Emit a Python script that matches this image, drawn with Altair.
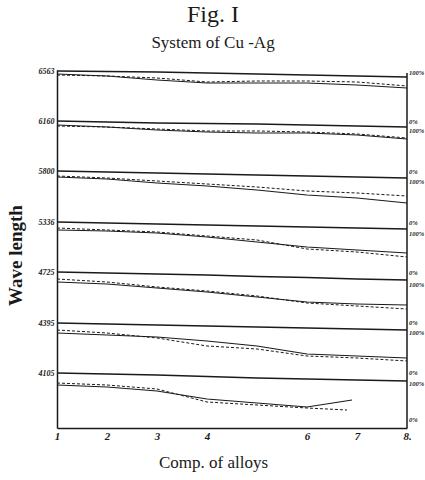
import altair as alt
import pandas as pd

# Composition of alloys (horizontal position)
comp = [1, 2, 3, 4, 5, 6, 7, 8]
x_tick_labels = ["1", "2", "3", "4", "", "6", "7", "8."]

# Wave lengths of the seven examined lines, top to bottom
wave_lengths = ["6563", "6160", "5800", "5336", "4725", "4395", "4105"]

# Vertical scale: depth below the top of the diagram (arbitrary units)
ref_lines = [
    [1, 1.5, 2, 3, 4, 5, 6, 7],
    [51, 52, 53, 53.5, 54, 55, 56, 57],
    [101, 102, 103, 104, 105, 106, 107, 108],
    [152, 153, 154, 155, 156, 157, 158, 159],
    [202, 203, 204, 205, 206.5, 207.5, 209, 210],
    [253, 254, 255, 256, 257, 258, 259, 260],
    [303, 304, 305, 306.5, 308, 309, 310, 311],
]

solid_x = [comp] * 6 + [[1, 2, 3, 4, 5, 6, 6.9]]
solid_curves = [
    [4, 6, 10, 13, 13, 13, 15, 18],
    [55, 57, 60, 62, 63, 63, 65, 69],
    [107, 109, 113, 116, 120, 125, 128, 133],
    [160, 161, 163, 167, 172, 177, 180, 183],
    [212, 214, 218, 222, 227, 232, 234, 235],
    [263, 265, 267, 271, 276, 284, 286, 288],
    [315, 317, 321, 329, 333, 337, 330],
]

dashed_x = [comp] * 6 + [[1, 2, 3, 4, 5, 6, 6.8]]
dashed_curves = [
    [5, 6, 8, 12, 11, 11, 12, 16],
    [56, 57, 59, 61, 61, 62, 64, 68],
    [106, 108, 111, 114, 117, 121, 123, 126],
    [158, 160, 162, 166, 170, 179, 182, 187],
    [209, 212, 217, 221, 226, 233, 236, 239],
    [260, 263, 268, 276, 279, 286, 288, 291],
    [313, 315, 319, 332, 335, 338, 340],
]

# Percentage marks along the right edge
right_labels = ["100%", "0%", "100%", "0%", "100%", "0%", "100%", "0%", "100%",
                "0%", "100%", "0%", "100%", "0%"]
right_label_pos = [3, 52, 61, 102, 112, 153, 164, 203, 215, 253, 263, 303, 314, 350]

ref_df = pd.DataFrame(
    [{"x": x, "y": y, "panel": i} for i, ys in enumerate(ref_lines) for x, y in zip(comp, ys)]
)
solid_df = pd.DataFrame(
    [{"x": x, "y": y, "panel": i}
     for i, (xs, ys) in enumerate(zip(solid_x, solid_curves)) for x, y in zip(xs, ys)]
)
dashed_df = pd.DataFrame(
    [{"x": x, "y": y, "panel": i}
     for i, (xs, ys) in enumerate(zip(dashed_x, dashed_curves)) for x, y in zip(xs, ys)]
)
right_df = pd.DataFrame({"x": [8] * len(right_labels), "y": right_label_pos, "t": right_labels})
frame_df = pd.DataFrame({"x": [8], "y": [3], "y2": [358]})

ink = "#1a1a1a"
serif = "Liberation Serif"

y_label_expr = " : ".join(
    f"datum.value == {ys[0]} ? '{w}'" for w, ys in zip(wave_lengths, ref_lines)
) + " : ''"
x_label_expr = " : ".join(
    f"datum.value == {v} ? '{t}'" for v, t in zip(comp, x_tick_labels)
) + " : ''"

x_enc = alt.X(
    "x:Q",
    scale=alt.Scale(domain=[1, 8], nice=False, zero=False),
    axis=alt.Axis(
        values=comp, labelExpr=x_label_expr, title="Comp. of alloys",
        grid=False, ticks=False, domainColor=ink, domainWidth=1.5,
        labelFont=serif, labelFontStyle="italic", labelFontWeight="bold",
        labelFontSize=11, labelColor=ink, labelPadding=2, labelFlush=False,
        titleFont=serif, titleFontSize=17, titleFontWeight="normal", titleColor=ink,
        titleX=156, titleY=26, titleBaseline="top",
    ),
)
y_enc = alt.Y(
    "y:Q",
    scale=alt.Scale(domain=[0, 358], reverse=True, nice=False, zero=False),
    axis=alt.Axis(
        values=[ys[0] for ys in ref_lines], labelExpr=y_label_expr, title="Wave length",
        grid=False, ticks=False, domainColor=ink, domainWidth=1.5,
        labelFont=serif, labelFontStyle="italic", labelFontWeight="bold",
        labelFontSize=8, labelColor=ink, labelPadding=3,
        titleFont=serif, titleFontSize=19, titleFontWeight="bold", titleColor=ink,
        titleX=-32, titleY=185,
    ),
)

refs = alt.Chart(ref_df).mark_line(color=ink, strokeWidth=1.4).encode(
    x=x_enc, y=y_enc, detail="panel:N"
)
solid = alt.Chart(solid_df).mark_line(color=ink, strokeWidth=1.2).encode(
    x="x:Q", y="y:Q", detail="panel:N"
)
dashed = alt.Chart(dashed_df).mark_line(color=ink, strokeWidth=1, strokeDash=[3, 2]).encode(
    x="x:Q", y="y:Q", detail="panel:N"
)
right_edge = alt.Chart(frame_df).mark_rule(color=ink, strokeWidth=1.5).encode(
    x="x:Q", y="y:Q", y2="y2:Q"
)
right_text = alt.Chart(right_df).mark_text(
    align="left", baseline="middle", dx=2, font=serif, fontStyle="italic",
    fontWeight="bold", fontSize=6.5, color=ink
).encode(x="x:Q", y="y:Q", text="t:N")

chart = (
    alt.layer(refs, solid, dashed, right_edge, right_text)
    .properties(
        width=350,
        height=358,
        title=alt.Title(
            "Fig.  I", subtitle="System of Cu -Ag", font=serif, fontSize=24,
            fontWeight="normal", color=ink, subtitleFont=serif, subtitleFontSize=17,
            subtitleColor=ink, subtitlePadding=8, anchor="middle", dx=-19, offset=16,
        ),
        autosize=alt.AutoSizeParams(type="none"),
        padding={"left": 57, "top": 70, "right": 18, "bottom": 52},
        background="white",
    )
    .configure_view(stroke=None)
)

chart.save("out.html", embed_options={"renderer": "svg", "actions": False})
